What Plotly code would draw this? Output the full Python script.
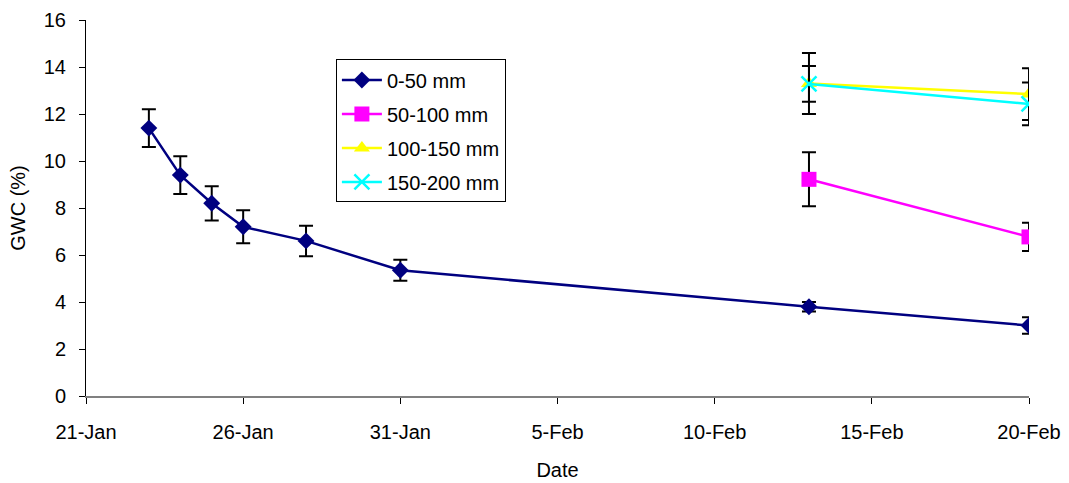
import plotly.graph_objects as go

dates_a = ["2008-01-23", "2008-01-24", "2008-01-25", "2008-01-26", "2008-01-28", "2008-01-31", "2008-02-13", "2008-02-20"]
gwc_0_50 = [11.4, 9.4, 8.2, 7.2, 6.6, 5.35, 3.8, 3.0]
err_0_50 = [0.8, 0.8, 0.73, 0.7, 0.65, 0.45, 0.2, 0.35]

dates_b = ["2008-02-13", "2008-02-20"]
gwc_50_100 = [9.22, 6.77]
err_50_100 = [1.15, 0.6]
gwc_100_150 = [13.3, 12.85]
err_100_150 = [1.3, 1.1]
gwc_150_200 = [13.28, 12.43]
err_150_200 = [0.76, 0.91]

FONT = "Liberation Sans, Arial, sans-serif"
FS = 20
fig = go.Figure()

def eb(vals):
    return dict(type="data", array=vals, visible=True, color="black", thickness=2, width=7)

fig.add_trace(go.Scatter(x=dates_a, y=gwc_0_50, name="0-50 mm", mode="lines+markers",
                         legendgroup="a",
                         line=dict(color="#000080", width=2.5),
                         marker=dict(symbol="diamond", size=13, color="#000080"),
                         error_y=eb(err_0_50)))
fig.add_trace(go.Scatter(x=dates_b, y=gwc_50_100, name="50-100 mm", mode="lines+markers",
                         legendgroup="b",
                         line=dict(color="#FF00FF", width=2.5),
                         marker=dict(symbol="square", size=15, color="#FF00FF"),
                         error_y=eb(err_50_100)))
fig.add_trace(go.Scatter(x=dates_b, y=gwc_100_150, name="100-150 mm", mode="lines+markers",
                         legendgroup="c",
                         line=dict(color="#FFFF00", width=2.5),
                         marker=dict(symbol="triangle-up", size=14, color="#FFFF00"),
                         error_y=eb(err_100_150)))
fig.add_trace(go.Scatter(x=dates_b, y=gwc_150_200, name="150-200 mm", mode="lines+markers",
                         legendgroup="d",
                         line=dict(color="#00FFFF", width=2.5),
                         marker=dict(symbol="x-thin", size=15, color="#00FFFF",
                                     line=dict(color="#00FFFF", width=2.5)),
                         error_y=eb(err_150_200)))

fig.update_layout(
    width=1069, height=483,
    margin=dict(l=86, r=40, t=20, b=87, autoexpand=False),
    paper_bgcolor="white", plot_bgcolor="white",
    font=dict(family=FONT, size=FS, color="black"),
    showlegend=True,
    legend=dict(x=0.265, y=0.895, xanchor="left", yanchor="top",
                bordercolor="black", borderwidth=1, bgcolor="white",
                font=dict(size=FS), traceorder="grouped", tracegroupgap=5, itemwidth=40),
    xaxis=dict(type="date", range=["2008-01-21", "2008-02-20"], automargin=False,
               tick0="2008-01-21", dtick=5 * 86400000, tickformat="%-d-%b",
               showline=True, linecolor="#808080", linewidth=1.5,
               ticks="outside", ticklen=6, tickcolor="black", ticklabelstandoff=11,
               showgrid=False, zeroline=False,
               title=dict(text="Date", font=dict(size=FS), standoff=21)),
    yaxis=dict(range=[0, 16], dtick=2, automargin=False,
               showline=True, linecolor="black", linewidth=1,
               ticks="outside", ticklen=6, tickcolor="black", ticklabelstandoff=9,
               showgrid=False, zeroline=False,
               title=dict(text="GWC (%)", font=dict(size=FS), standoff=12)),
)

fig.write_html("out.html")
